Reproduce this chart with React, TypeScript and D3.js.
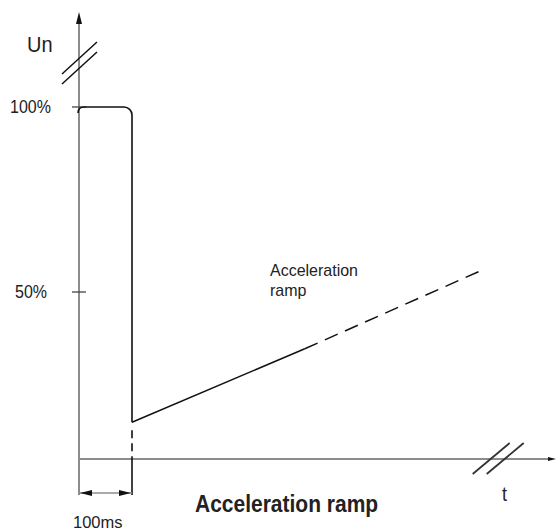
import * as d3 from 'd3';

// time axis in ms, level axis in % of Un
const pulseStart = 0;
const pulseEnd = 100;
const pulseLevel = 100;
const levelTicks = [50, 100];
const levelLabels = ['50%', '100%'];
const rampSolid = [
  { t: 100, v: 11 },
  { t: 426, v: 33 },
];
const rampDashed = [
  { t: 426, v: 33 },
  { t: 762, v: 56 },
];
const timeMax = 900;
const breakTime = 790;

const W = 560;
const H = 531;
const AXIS = '#8c8c8c';
const INK = '#111';
const FONT = '"Liberation Sans", Arial, sans-serif';

export default function App() {
  const x = d3.scaleLinear().domain([0, 100]).range([79, 132]);
  // schematic, not quite linear between 0-50 and 50-100
  const y = d3.scaleLinear().domain([0, 50, 100]).range([459, 292, 107]);

  const line = d3
    .line<{ t: number; v: number }>()
    .x((d) => x(d.t))
    .y((d) => y(d.v));

  const x0 = x(pulseStart);
  const x1 = x(pulseEnd);
  const yTop = y(pulseLevel);
  const yRamp = y(rampSolid[0].v);
  const yAxis = y(0);
  const yDim = yAxis + 34;
  const r = 8;

  const pulse = d3.path();
  pulse.moveTo(x0 - 1, yTop + 6);
  pulse.quadraticCurveTo(x0 - 1, yTop, x0 + 5, yTop);
  pulse.lineTo(x1 - r, yTop);
  pulse.arcTo(x1, yTop, x1, yTop + r, r);
  pulse.lineTo(x1, yRamp);

  const xEnd = x(timeMax);
  const xb = x(breakTime);

  const txt = (s: string, tx: number, ty: number, size: number, sy = 1.12, weight = 'normal') => (
    <text
      transform={`translate(${tx},${ty}) scale(1,${sy})`}
      fontSize={size}
      fontFamily={FONT}
      fontWeight={weight}
      fill="#222"
    >
      {s}
    </text>
  );

  return (
    <svg width={W} height={H} style={{ position: 'absolute', left: 0, top: 0 }}>
      <rect width={W} height={H} fill="#fff" />

      {/* y axis */}
      <line x1={x0} x2={x0} y1={yDim + 2} y2={18} stroke={AXIS} strokeWidth={2} />
      <path d={`M${x0},12 L${x0 - 3},24 L${x0 + 3},24 Z`} fill={INK} />
      {/* y axis break */}
      <line x1={62} y1={74} x2={97} y2={42} stroke={INK} strokeWidth={1.5} />
      <line x1={62} y1={84} x2={97} y2={52} stroke={INK} strokeWidth={1.5} />

      {/* x axis */}
      <line x1={x0} x2={xEnd - 4} y1={yAxis} y2={yAxis} stroke={AXIS} strokeWidth={2} />
      <path d={`M${xEnd},${yAxis} L${xEnd - 8},${yAxis - 2} L${xEnd - 8},${yAxis + 2} Z`} fill={INK} />
      <line x1={xb - 25} y1={yAxis + 15} x2={xb + 12} y2={yAxis - 16} stroke="#333" strokeWidth={1.8} />
      <line x1={xb - 11} y1={yAxis + 15} x2={xb + 26} y2={yAxis - 16} stroke="#333" strokeWidth={1.8} />

      {/* ticks */}
      {levelTicks.map((v) => (
        <line key={v} x1={x0 - 7} x2={x0 + 7} y1={y(v)} y2={y(v)} stroke="#444" strokeWidth={1.3} />
      ))}

      {/* pulse */}
      <path d={pulse.toString()} fill="none" stroke={INK} strokeWidth={1.6} />
      <line x1={x1} x2={x1} y1={yRamp + 8} y2={yAxis} stroke={INK} strokeWidth={1.6} strokeDasharray="8 5" />
      <line x1={x1} x2={x1} y1={yAxis} y2={yDim + 2} stroke={INK} strokeWidth={1.6} />

      {/* ramp */}
      <path d={line(rampSolid) ?? ''} fill="none" stroke={INK} strokeWidth={1.5} />
      <path d={line(rampDashed) ?? ''} fill="none" stroke={INK} strokeWidth={1.5} strokeDasharray="14 8" />

      {/* 100 ms dimension */}
      <line x1={x0} x2={x1} y1={yDim} y2={yDim} stroke={AXIS} strokeWidth={1.5} />
      <path d={`M${x0 + 1},${yDim} L${x0 + 13},${yDim - 3} L${x0 + 13},${yDim + 3} Z`} fill={INK} />
      <path d={`M${x1 - 1},${yDim} L${x1 - 13},${yDim - 3} L${x1 - 13},${yDim + 3} Z`} fill={INK} />

      {/* labels */}
      {txt('Un', 27, 52, 20)}
      {levelTicks.map((v, i) => (
        <g key={v}>{txt(levelLabels[i], i === 1 ? 10 : 15, y(v) + 6, 16)}</g>
      ))}
      {txt('Acceleration', 270, 276, 16, 1.05)}
      {txt('ramp', 270, 296, 16, 1.05)}
      {txt('t', 502, 501, 18)}
      {txt('100ms', 73, 528, 16.5, 1.0)}
      {txt('Acceleration ramp', 195, 512, 21, 1.12, 'bold')}
    </svg>
  );
}
